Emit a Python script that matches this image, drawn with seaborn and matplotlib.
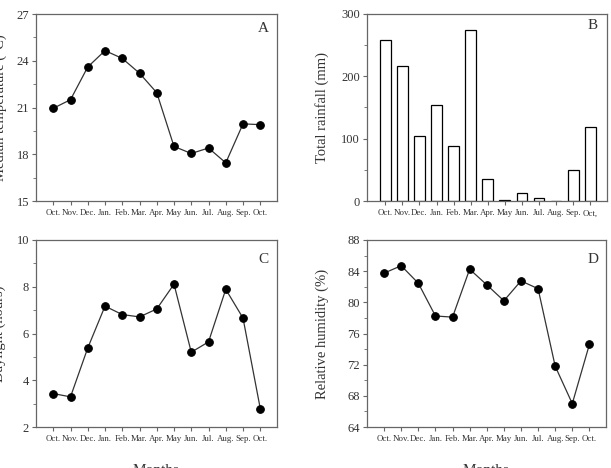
import numpy as np
import pandas as pd
import matplotlib
matplotlib.use("Agg")
import matplotlib.pyplot as plt
from matplotlib.ticker import MultipleLocator
import seaborn as sns

# --- data ---
months = ["Oct.", "Nov.", "Dec.", "Jan.", "Feb.", "Mar.", "Apr.",
          "May", "Jun.", "Jul.", "Aug.", "Sep.", "Oct."]
months_b = months[:-1] + ["Oct,"]

temperature = [20.95, 21.5, 23.6, 24.65, 24.15, 23.2, 21.95,
               18.5, 18.05, 18.4, 17.45, 19.95, 19.9]
rainfall = [257.5, 217, 105, 154, 88, 274, 36,
            2, 13.5, 4.5, 0.5, 50.5, 118]
daylight = [3.43, 3.29, 5.38, 7.17, 6.81, 6.71, 7.05,
            8.11, 5.2, 5.64, 7.89, 6.66, 2.79]
humidity = [83.75, 84.7, 82.45, 78.25, 78.1, 84.25, 82.25,
            80.2, 82.75, 81.75, 71.8, 67.0, 74.6]

sns.set_style("ticks")
plt.rcParams["font.family"] = ["Liberation Serif", "DejaVu Serif"]
plt.rcParams.update({
    "axes.edgecolor": "#666666",
    "axes.linewidth": 0.9,
    "xtick.color": "#666666",
    "ytick.color": "#666666",
    "xtick.labelcolor": "#333333",
    "ytick.labelcolor": "#333333",
    "text.color": "#333333",
    "axes.labelcolor": "#333333",
})

fig = plt.figure(figsize=(6.11, 4.68), dpi=100)
W, H = 611, 468


def add_axes(left, top, right, bottom):
    return fig.add_axes([left / W, 1 - bottom / H, (right - left) / W, (bottom - top) / H])


axA = add_axes(36, 14, 277, 201)
axB = add_axes(367, 14, 607, 201)
axC = add_axes(36, 240, 277, 427)
axD = add_axes(367, 240, 606, 427)

idx = np.arange(len(months))
df = pd.DataFrame({"idx": idx, "temp": temperature, "rain": rainfall,
                   "day": daylight, "hum": humidity})


def line_panel(ax, col, ylim, major, minor, ylabel, letter, lab_x, let_y):
    sns.lineplot(data=df, x="idx", y=col, ax=ax, color="#333333", linewidth=0.9,
                 marker="o", markersize=5.5, markerfacecolor="black",
                 markeredgecolor="black")
    ax.set_xlim(-1, 12.97)
    ax.set_ylim(*ylim)
    ax.set_xticks(idx)
    ax.set_xticklabels(months)
    ax.yaxis.set_major_locator(MultipleLocator(major))
    ax.yaxis.set_minor_locator(MultipleLocator(minor))
    ax.set_xlabel("")
    ax.set_ylabel(ylabel, fontsize=10.5)
    ax.yaxis.set_label_coords(lab_x, 0.5)
    ax.text(0.945, let_y, letter, transform=ax.transAxes, ha="center", va="center",
            fontsize=11)


line_panel(axA, "temp", (15, 27), 3, 1.5, "Median temperature (°C)", "A", -0.12, 0.925)
line_panel(axC, "day", (2, 10), 2, 1, "Daylight (hours)", "C", -0.125, 0.898)
line_panel(axD, "hum", (64, 88), 4, 2, "Relative humidity (%)", "D", -0.158, 0.898)

sns.barplot(data=df, x="idx", y="rain", ax=axB, color="white", edgecolor="black",
            linewidth=0.9, width=0.63, saturation=1)
axB.set_xlim(-1.07, 12.98)
axB.set_ylim(0, 300)
axB.set_xticks(idx)
axB.set_xticklabels(months_b)
axB.yaxis.set_major_locator(MultipleLocator(100))
axB.yaxis.set_minor_locator(MultipleLocator(50))
axB.set_xlabel("")
axB.set_ylabel("Total rainfall (mm)", fontsize=10.5)
axB.yaxis.set_label_coords(-0.158, 0.5)
axB.text(0.94, 0.936, "B", transform=axB.transAxes, ha="center", va="center", fontsize=11)

for ax in (axA, axB, axC, axD):
    for s in ax.spines.values():
        s.set_visible(True)
    ax.tick_params(axis="x", which="major", length=3, width=0.8, labelsize=6.4, pad=3)
    ax.tick_params(axis="y", which="major", length=3, width=0.8, labelsize=9, pad=2)
    ax.tick_params(axis="y", which="minor", length=2, width=0.6)
    ax.grid(False)

fig.text(156 / W, 1 - 464 / H, "Months", ha="center", va="top", fontsize=11)
fig.text(486 / W, 1 - 464 / H, "Months", ha="center", va="top", fontsize=11)

fig.savefig("out.png", dpi=100)
